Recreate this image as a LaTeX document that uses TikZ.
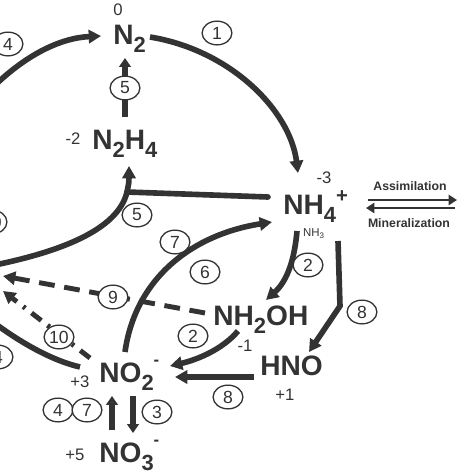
\documentclass[tikz,border=0pt]{standalone}
\usepackage{fontspec}
\setmainfont{Liberation Sans}
\usetikzlibrary{arrows.meta,shapes.geometric}
\definecolor{ink}{HTML}{333333}
\tikzset{%
  tipA/.tip={Triangle[length=7pt,width=7.5pt]},
  tipB/.tip={Triangle[length=5pt,width=6.5pt]},
  tipC/.tip={Triangle[length=4.7pt,width=5.7pt]},
  flow/.style={draw=ink,line width=3.2pt,-tipA},
  flowv/.style={draw=ink,line width=3.4pt,-tipB},
  bar/.style={draw=ink,line width=3.2pt},
  species/.style={anchor=base west,inner sep=0pt,text=ink,font=\fontsize{16}{16}\selectfont\bfseries},
  ox/.style={inner sep=0pt,text=ink,font=\fontsize{9.5}{9.5}\selectfont},
  stepno/.style={ellipse,draw=ink,line width=0.75pt,fill=white,minimum width=17pt,
    minimum height=13.5pt,inner sep=0pt,text=ink,font=\fontsize{10}{10}\selectfont}
}
\newcommand{\dn}[1]{\raisebox{-0.3em}{\scalebox{0.78}{#1}}}
\newcommand{\plus}{\raisebox{0.4em}{\scalebox{0.72}{+}}}
\newcommand{\minus}{\raisebox{0.6em}{\scalebox{0.6}{-}}}

\begin{document}
\begin{tikzpicture}[x=0.02cm,y=-0.02cm]
\useasboundingbox (0,0) rectangle (474,474);
\clip (0,0) rectangle (474,474);
% species and oxidation states
\node[species] (n2) at (113,44) {N\dn{2}};
\node[ox] (oxn2) at (118,10) {0};
\node[species] (nhyd) at (92,149) {N\dn{2}H\dn{4}};
\node[ox] (oxnhyd) at (73,139) {-2};
\node[species] (nh4) at (283,214) {NH\dn{4}\plus};
\node[ox] (oxnh4) at (324,178) {-3};
\node[inner sep=0pt,text=ink,font=\fontsize{6.5}{6.5}\selectfont] (nh3) at (314,234) {NH\textsubscript{3}};
\node[species] (nh2oh) at (213,325) {NH\dn{2}OH};
\node[ox] (oxnh2oh) at (245,346) {-1};
\node[species] (hno) at (260,375) {HNO};
\node[ox] (oxhno) at (285,395) {+1};
\node[species] (no2) at (99,382) {NO\dn{2}\minus};
\node[ox] (oxno2) at (80,382) {+3};
\node[species] (no3) at (99,462) {NO\dn{3}\minus};
\node[ox] (oxno3) at (75,455) {+5};

% connector ends
\coordinate (wa) at (-10,90);
\coordinate (n2in) at (101,36);
\coordinate (n2out) at (150,37);
\coordinate (nh4top) at (298,173);
\coordinate (n2bot) at (125,58);
\coordinate (jn) at (127,192);
\coordinate (nh4w) at (268,197);
\coordinate (wb) at (-10,266);
\coordinate (nhydin) at (129,166);
\coordinate (no2top) at (125,352);
\coordinate (nh4in) at (272,222);
\coordinate (nh4bot) at (297,231);
\coordinate (nh2ohin) at (266,300);
\coordinate (nh4r) at (338,241);
\coordinate (bend) at (340,306);
\coordinate (hnoin) at (309,352);
\coordinate (nh2ohw) at (205,313);
\coordinate (wc) at (3,276);
\coordinate (no2nw) at (90,358);
\coordinate (wd) at (3,291);
\coordinate (nh2ohbot) at (238,331);
\coordinate (no2in) at (170,366);
\coordinate (hnow) at (254,377);
\coordinate (no2e) at (175,377);
\coordinate (no2w) at (80,367);
\coordinate (we) at (-20,312);

% pathways
\draw[flow] (wa) .. controls (25,55) and (60,38) .. (n2in);
\draw[flow] (n2out) .. controls (230,50) and (290,110) .. (nh4top);
\draw[flowv] (125,117) -- (n2bot);
\draw[bar,line cap=round] (nh4w) -- (jn);
\draw[flow] (wb) .. controls (60,252) and (118,230) .. (jn) .. controls (129,182) .. (nhydin);
\draw[flow] (no2top) .. controls (135,280) and (190,235) .. (nh4in);
\draw[flow] (nh4bot) .. controls (294,265) and (285,283) .. (nh2ohin);
\draw[flow] (nh4r) -- (bend) -- (hnoin);
\draw[flow,line width=2.8pt,dash pattern=on 9pt off 5.5pt] (nh2ohw) -- (wc);
\draw[flow,line width=2.8pt,dash pattern=on 7pt off 4.5pt on 1.5pt off 4.5pt] (no2nw) -- (wd);
\draw[flow] (nh2ohbot) .. controls (222,350) and (196,360) .. (no2in);
\draw[flow] (hnow) -- (no2e);
\draw[bar] (no2w) .. controls (50,360) and (15,340) .. (we);
\draw[flowv] (112,430) -- (112,396);
\draw[flowv] (133,396) -- (133,433);

% step numbers
\node[stepno] (s1) at (217,33) {1};
\node[stepno] (s4a) at (8,44) {4};
\node[stepno] (s5a) at (125,88) {5};
\node[stepno] (s10a) at (-8,222) {10};
\node[stepno] (s5b) at (137,215) {5};
\node[stepno] (s7a) at (175,242) {7};
\node[stepno] (s6) at (205,272) {6};
\node[stepno] (s2a) at (308,265) {2};
\node[stepno] (s8a) at (362,312) {8};
\node[stepno] (s9) at (113,297) {9};
\node[stepno] (s2b) at (193,336) {2};
\node[stepno] (s10b) at (59,337) {10};
\node[stepno] (s4b) at (-2,357) {4};
\node[stepno] (s8b) at (228,397) {8};
\node[stepno] (s4c) at (58,410) {4};
\node[stepno] (s7b) at (87,410) {7};
\node[stepno] (s3) at (157,412) {3};

% assimilation / mineralization
\coordinate (al) at (368,200);
\coordinate (ar) at (457,200);
\coordinate (ml) at (366,208);
\coordinate (mr) at (455,208);
\draw[draw=ink,line width=1.6pt,-tipC] (al) -- (ar);
\draw[draw=ink,line width=1.6pt,-tipC] (mr) -- (ml);
\node[inner sep=0pt,text=ink,font=\fontsize{7}{7}\selectfont\bfseries] (assim) at (410,186) {Assimilation};
\node[inner sep=0pt,text=ink,font=\fontsize{7}{7}\selectfont\bfseries] (miner) at (409,223) {Mineralization};
\end{tikzpicture}
\end{document}
